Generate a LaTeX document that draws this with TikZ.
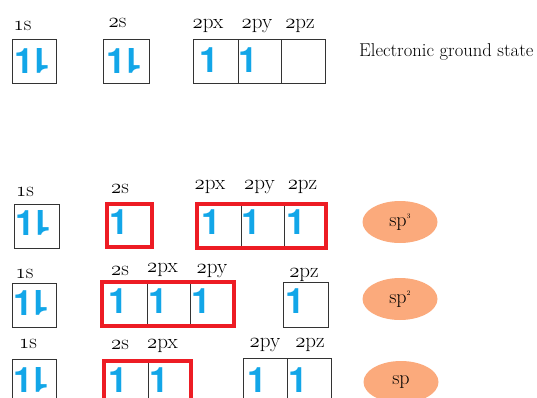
\documentclass[tikz,border=0pt]{standalone}
\usepackage{fontspec}
\newfontfamily\efont{TeX Gyre Heros}
\usetikzlibrary{fit,shapes.geometric}
\definecolor{eblue}{HTML}{12A6E8}
\definecolor{hred}{HTML}{ED1C24}
\definecolor{peach}{HTML}{FBAA7C}
\definecolor{boxgray}{HTML}{333333}
\newcommand{\osn}[1]{$\mathnormal{#1}$}
\newcommand{\upe}{1}
\newcommand{\dne}{\rotatebox[origin=c]{180}{1}}
\newcommand{\pairud}{1\kern-2.9pt\rotatebox[origin=c]{180}{1}}
\begin{document}
\begin{tikzpicture}[x=1pt,y=-1pt,
  orb/.style={draw=boxgray, line width=1pt, minimum width=#1, minimum height=44pt,
    inner sep=0pt, outer sep=0pt, anchor=north west},
  orb/.default=44pt,
  hyb/.style={draw=hred, line width=3.5pt, inner sep=0pt, outer sep=0pt},
  lab/.style={font=\fontsize{21}{24}\selectfont, inner sep=0pt, anchor=base},
  elup/.style={text=eblue, font=\efont\bfseries\fontsize{35}{35}\selectfont, inner sep=0pt, xshift=1.4pt},
  elpair/.style={text=eblue, font=\efont\bfseries\fontsize{35}{35}\selectfont, inner sep=0pt, xshift=9.7pt},
  ell/.style={ellipse, fill=peach, minimum width=75pt, minimum height=42pt, inner sep=0pt,
    font=\fontsize{20}{22}\selectfont}
]
\useasboundingbox (0,0) rectangle (537,398);
\clip (0,0) rectangle (537,398);

% ---------- Row 1: ground state ----------
\node[orb=44pt] (a1s) at (12,40) {};
\node[orb=46pt] (a2s) at (103,40) {};
\node[orb=45pt] (a2px) at (193,40) {};
\node[orb=43pt] (a2py) at (238,40) {};
\node[orb=44pt] (a2pz) at (281,40) {};
\node[lab] (la1s) at (22.5,31) {\osn{1}s};
\node[lab] (la2s) at (117.5,28) {\osn{2}s};
\node[lab] (la2px) at (208,29) {\osn{2}px};
\node[lab] (la2py) at (257,29) {\osn{2}py};
\node[lab] (la2pz) at (300,29) {\osn{2}pz};
\node[elpair] (ea1) at (23,61) {\pairud};
\node[elpair] (ea3) at (115,61) {\pairud};
\node[elup] (ea5) at (208,60) {\upe};
\node[elup] (ea6) at (247,60) {\upe};
\node[font=\fontsize{18.6}{22}\selectfont, inner sep=0pt, anchor=base west] (gs) at (359,57) {Electronic ground state};

% ---------- Row 2: sp3 ----------
\node[orb=45pt] (b1s) at (14,204) {};
\node[orb=44pt] (b2px) at (197,204) {};
\node[orb=43pt] (b2py) at (241,204) {};
\node[orb=42pt] (b2pz) at (284,204) {};
\node[hyb, minimum width=45pt, minimum height=43pt, anchor=north west] (b2s) at (107,204) {};
\node[hyb, fit=(b2px)(b2pz)] (bgrp) {};
\node[lab] (lb1s) at (25,196) {\osn{1}s};
\node[lab] (lb2s) at (120,193) {\osn{2}s};
\node[lab] (lb2px) at (210,189) {\osn{2}px};
\node[lab] (lb2py) at (259.5,189) {\osn{2}py};
\node[lab] (lb2pz) at (302.5,189) {\osn{2}pz};
\node[elpair] (eb1) at (24,223) {\pairud};
\node[elup] (eb3) at (117.5,222) {\upe};
\node[elup] (eb4) at (210,222) {\upe};
\node[elup] (eb5) at (250,222) {\upe};
\node[elup] (eb6) at (294.5,222) {\upe};
\node[ell] (sp3) at (400,222) {sp\raisebox{1.0ex}{\fontsize{7}{7}\selectfont 3}};

% ---------- Row 3: sp2 ----------
\node[orb=44pt] (c1s) at (12,283) {};
\node[orb=45pt] (c2s) at (102,282) {};
\node[orb=43pt] (c2px) at (147,282) {};
\node[orb=44pt] (c2py) at (190,282) {};
\node[hyb, fit=(c2s)(c2py)] (cgrp) {};
\node[orb=45pt, minimum height=45pt] (c2pz) at (283,282) {};
\node[lab] (lc1s) at (24.5,278) {\osn{1}s};
\node[lab] (lc2s) at (120,275) {\osn{2}s};
\node[lab] (lc2px) at (162.5,272) {\osn{2}px};
\node[lab] (lc2py) at (212,273) {\osn{2}py};
\node[lab] (lc2pz) at (304,277) {\osn{2}pz};
\node[elpair] (ec1) at (21.5,303) {\pairud};
\node[elup] (ec3) at (116.5,301) {\upe};
\node[elup] (ec4) at (157,301) {\upe};
\node[elup] (ec5) at (200,301) {\upe};
\node[elup] (ec6) at (293.5,301) {\upe};
\node[ell] (sp2) at (400,299) {sp\raisebox{1.0ex}{\fontsize{7}{7}\selectfont 2}};

% ---------- Row 4: sp ----------
\node[orb=44pt] (d1s) at (12,359) {};
\node[orb=44pt] (d2s) at (104,361) {};
\node[orb=43pt] (d2px) at (148,361) {};
\node[hyb, fit=(d2s)(d2px)] (dgrp) {};
\node[orb=44pt] (d2py) at (243,358) {};
\node[orb=44pt] (d2pz) at (287,358) {};
\node[lab] (ld1s) at (28,348) {\osn{1}s};
\node[lab] (ld2s) at (120,349) {\osn{2}s};
\node[lab] (ld2px) at (162.5,348) {\osn{2}px};
\node[lab] (ld2py) at (265,347) {\osn{2}py};
\node[lab] (ld2pz) at (310,347) {\osn{2}pz};
\node[elpair] (ed1) at (22,380) {\pairud};
\node[elup] (ed3) at (117,380) {\upe};
\node[elup] (ed4) at (157.5,380) {\upe};
\node[elup] (ed5) at (256,380) {\upe};
\node[elup] (ed6) at (296.5,380) {\upe};
\node[ell] (sp1) at (401,382) {sp};
\end{tikzpicture}
\end{document}
